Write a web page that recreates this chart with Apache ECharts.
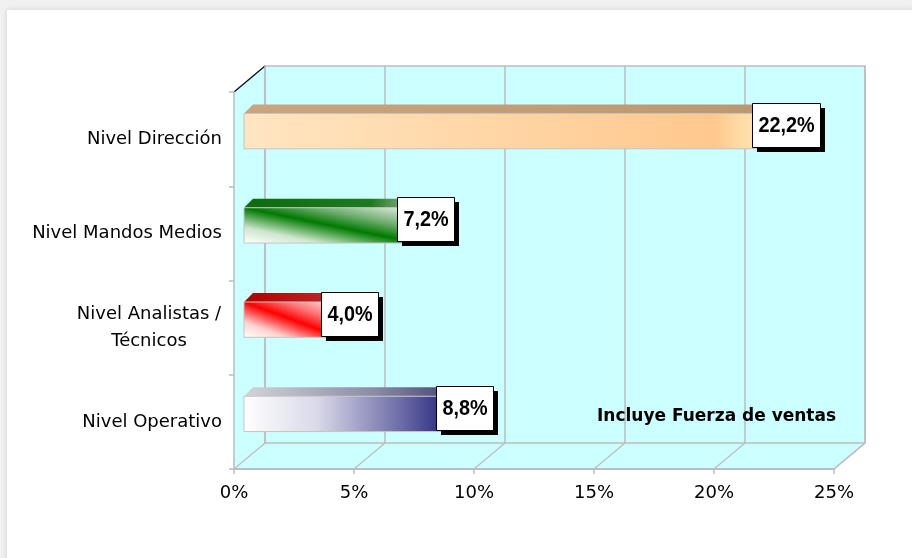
<!DOCTYPE html>
<html>
<head>
<meta charset="utf-8">
<script src="https://cdn.jsdelivr.net/npm/echarts@6/dist/echarts.min.js"></script>
<style>
  html, body { margin: 0; padding: 0; width: 912px; height: 558px; overflow: hidden; background: #f1f1f1; }
  #card { position: absolute; left: 7px; top: 10px; width: 910px; height: 560px; background: #ffffff; box-shadow: 0 0 6px rgba(0,0,0,0.13); }
  #chart { position: absolute; left: 0; top: 0; width: 912px; height: 558px; }
</style>
</head>
<body>
<div id="card"></div>
<div id="chart"></div>
<script>
// ---- data ----
const categories = ['Nivel Dirección', 'Nivel Mandos Medios', 'Nivel Analistas /\nTécnicos', 'Nivel Operativo'];
const values = [22.2, 7.2, 4.0, 8.8];
const valueLabels = ['22,2%', '7,2%', '4,0%', '8,8%'];
const xTicks = [0, 5, 10, 15, 20, 25];
const noteText = 'Incluye Fuerza de ventas';

// ---- styles ----
const CYAN = '#CCFFFF';
const GRID = '#BDBDBD';
const DEPTH = [31, -26];
const BAR_DEPTH = 9;
const lin = (x, y, x2, y2, stops, global) => ({ type: 'linear', x, y, x2, y2, global: !!global, colorStops: stops.map(s => ({ offset: s[0], color: s[1] })) });
const barStyles = [
  { kind: 'h', front: [[0, '#FFE6C2'], [0.45, '#FFD6A6'], [0.88, '#FFC88E'], [1, '#FFF2C2']],
    top: lin(0, 0, 1, 0, [[0, '#C9A47E'], [1, '#BC966F']]), side: '#E0B080' },
  { kind: 'd', front: [[0, '#FFFFFF'], [0.22, '#CFE6CF'], [0.5, '#007A00'], [0.7, '#6FAE6F'], [1, '#EEF5EE']],
    top: lin(0, 0, 1, 0, [[0, '#0B6B0B'], [0.7, '#1F7A1F'], [1, '#B8C4B8']]), side: '#2A7A2A' },
  { kind: 'd', front: [[0, '#FFFFFF'], [0.22, '#FFD2D2'], [0.5, '#FF0000'], [0.7, '#FF7070'], [1, '#FFF0F0']],
    top: lin(0, 0, 1, 0, [[0, '#B00000'], [0.75, '#C02020'], [1, '#D0C0C0']]), side: '#C03030' },
  { kind: 'h', front: [[0, '#FFFFFF'], [0.35, '#D8D8E8'], [0.75, '#6A6AA6'], [1, '#1C1C78']],
    top: lin(0, 0, 1, 0, [[0, '#D4D4DA'], [0.6, '#8A8AA4'], [1, '#3C3C6C']]), side: '#303070' }
];
const LABEL_FONT = 'bold 22px "Liberation Sans", Arial, sans-serif';
const LABEL_SCALE = 0.9;
const LABEL_PAD = 6;
const LABEL_H = 44;
const AXIS_FONT = 'DejaVu Sans';

const measureCtx = document.createElement('canvas').getContext('2d');
function textWidth(t, font) { measureCtx.font = font; return measureCtx.measureText(t).width; }

const chart = echarts.init(document.getElementById('chart'), null, { renderer: 'canvas' });

function renderWalls(params, api) {
  const cs = params.coordSys;
  const x0 = cs.x, y0 = cs.y, x1 = cs.x + cs.width, y1 = cs.y + cs.height;
  const dx = DEPTH[0], dy = DEPTH[1];
  return {
    type: 'group',
    children: [
      { type: 'rect', shape: { x: x0 + dx, y: y0 + dy, width: cs.width, height: cs.height }, style: { fill: CYAN } },
      { type: 'polygon', shape: { points: [[x0, y0], [x0 + dx, y0 + dy], [x0 + dx, y1 + dy], [x0, y1]] }, style: { fill: CYAN } },
      { type: 'polygon', shape: { points: [[x0, y1], [x0 + dx, y1 + dy], [x1 + dx, y1 + dy], [x1, y1]] }, style: { fill: CYAN } },
      { type: 'rect', shape: { x: x0 + dx, y: y0 + dy, width: cs.width, height: cs.height }, style: { fill: null, stroke: GRID, lineWidth: 1.5 } },
      { type: 'line', shape: { x1: x1, y1: y1, x2: x1 + dx, y2: y1 + dy }, style: { stroke: GRID, lineWidth: 1.5 } },
      { type: 'line', shape: { x1: x0, y1: y0, x2: x0 + dx, y2: y0 + dy }, style: { stroke: '#111111', lineWidth: 1.4 } }
    ]
  };
}

function renderTickLines(params, api) {
  const cs = params.coordSys;
  const y0 = cs.y, y1 = cs.y + cs.height;
  const dx = DEPTH[0], dy = DEPTH[1];
  const x = api.coord([api.value(0), 0])[0];
  return {
    type: 'group',
    children: [
      { type: 'line', shape: { x1: x + dx, y1: y0 + dy, x2: x + dx, y2: y1 + dy }, style: { stroke: GRID, lineWidth: 1.5 } },
      { type: 'line', shape: { x1: x, y1: y1, x2: x + dx, y2: y1 + dy }, style: { stroke: GRID, lineWidth: 1.2 } }
    ]
  };
}

function renderBar(params, api) {
  const v = api.value(0), idx = api.value(1);
  const p0 = api.coord([0, idx]);
  const p1 = api.coord([v, idx]);
  const band = api.size([0, 1])[1];
  const h = band * 0.375;
  const shiftX = 10, shiftY = -8;
  const xl = p0[0] + shiftX, xr = p1[0] + shiftX;
  const yc = p1[1] + shiftY;
  const top = yc - h / 2, bot = yc + h / 2;
  const W = xr - xl;
  const d = BAR_DEPTH;
  const s = barStyles[params.dataIndex];
  let frontFill;
  if (s.kind === 'h') {
    frontFill = lin(0, 0, 1, 0, s.front);
  } else {
    const cx = (xl + xr) / 2;
    const len = Math.sqrt(W * W + h * h);
    const nx = h / len, ny = -W / len;
    const L = W * h / len;
    frontFill = lin(cx - nx * L, yc - ny * L, cx + nx * L, yc + ny * L, s.front, true);
  }
  const lbl = valueLabels[params.dataIndex];
  const tw = textWidth(lbl, LABEL_FONT) * LABEL_SCALE;
  const bw = Math.round(tw + 2 * LABEL_PAD);
  const lx = xr + 9, ly = yc - 6;
  const bx = Math.round(lx - bw / 2), by = Math.round(ly - LABEL_H / 2);
  return {
    type: 'group',
    children: [
      { type: 'polygon', shape: { points: [[xl, top], [xl + d, top - d], [xr + d, top - d], [xr, top]] }, style: { fill: s.top } },
      { type: 'polygon', shape: { points: [[xr, top], [xr + d, top - d], [xr + d, bot - d], [xr, bot]] }, style: { fill: s.side } },
      { type: 'rect', shape: { x: xl, y: top, width: W, height: h }, style: { fill: frontFill, stroke: '#C4C4C4', lineWidth: 1 } },
      { type: 'rect', shape: { x: bx + 5, y: by + 5, width: bw, height: LABEL_H }, style: { fill: '#000' } },
      { type: 'rect', shape: { x: bx + 0.5, y: by + 0.5, width: bw, height: LABEL_H }, style: { fill: '#fff', stroke: '#000', lineWidth: 1 } },
      { type: 'text', x: bx + 0.5 + bw / 2, y: ly + 1, scaleX: LABEL_SCALE, scaleY: 1,
        style: { text: lbl, font: LABEL_FONT, fill: '#000', align: 'center', verticalAlign: 'middle' } }
    ]
  };
}

const option = {
  animation: false,
  grid: { left: 234, top: 92, width: 600, height: 377, containLabel: false },
  xAxis: {
    type: 'value', min: 0, max: 25, interval: 5, z: 5,
    axisLine: { show: true, lineStyle: { color: GRID, width: 2 } },
    axisTick: { show: true, length: 5, lineStyle: { color: GRID, width: 1.5 } },
    splitLine: { show: false },
    axisLabel: { formatter: '{value}%', color: '#000', fontSize: 18, fontFamily: AXIS_FONT, margin: 15 }
  },
  yAxis: {
    type: 'category', inverse: true, data: categories, z: 5,
    axisLine: { show: true, lineStyle: { color: GRID, width: 1.5 } },
    axisTick: { show: true, length: 5, lineStyle: { color: GRID, width: 1.5 } },
    axisLabel: {
      color: '#000', fontSize: 18, fontFamily: AXIS_FONT, margin: 12, lineHeight: 27,
      formatter: v => v.indexOf('\n') >= 0 ? v.split('\n').map(s => '{c|' + s + '}').join('\n') : v,
      rich: { c: { width: 146, align: 'center', color: '#000', fontSize: 18, fontFamily: AXIS_FONT, lineHeight: 27 } }
    }
  },
  graphic: [
    { type: 'text', left: 597, top: 408, z: 10,
      style: { text: noteText, font: 'bold 17px "DejaVu Sans", sans-serif', fill: '#000' } }
  ],
  series: [
    { type: 'custom', name: 'walls', z: 1, silent: true, renderItem: renderWalls, data: [[0, 0]], encode: { x: 0, y: 1 } },
    { type: 'custom', name: 'ticks', z: 1.5, silent: true, renderItem: renderTickLines, data: xTicks.map(t => [t, 0]), encode: { x: 0, y: 1 } },
    { type: 'custom', name: 'bars', z: 3, renderItem: renderBar, data: values.map((v, i) => [v, i]), encode: { x: 0, y: 1 } }
  ]
};
chart.setOption(option);
</script>
</body>
</html>
